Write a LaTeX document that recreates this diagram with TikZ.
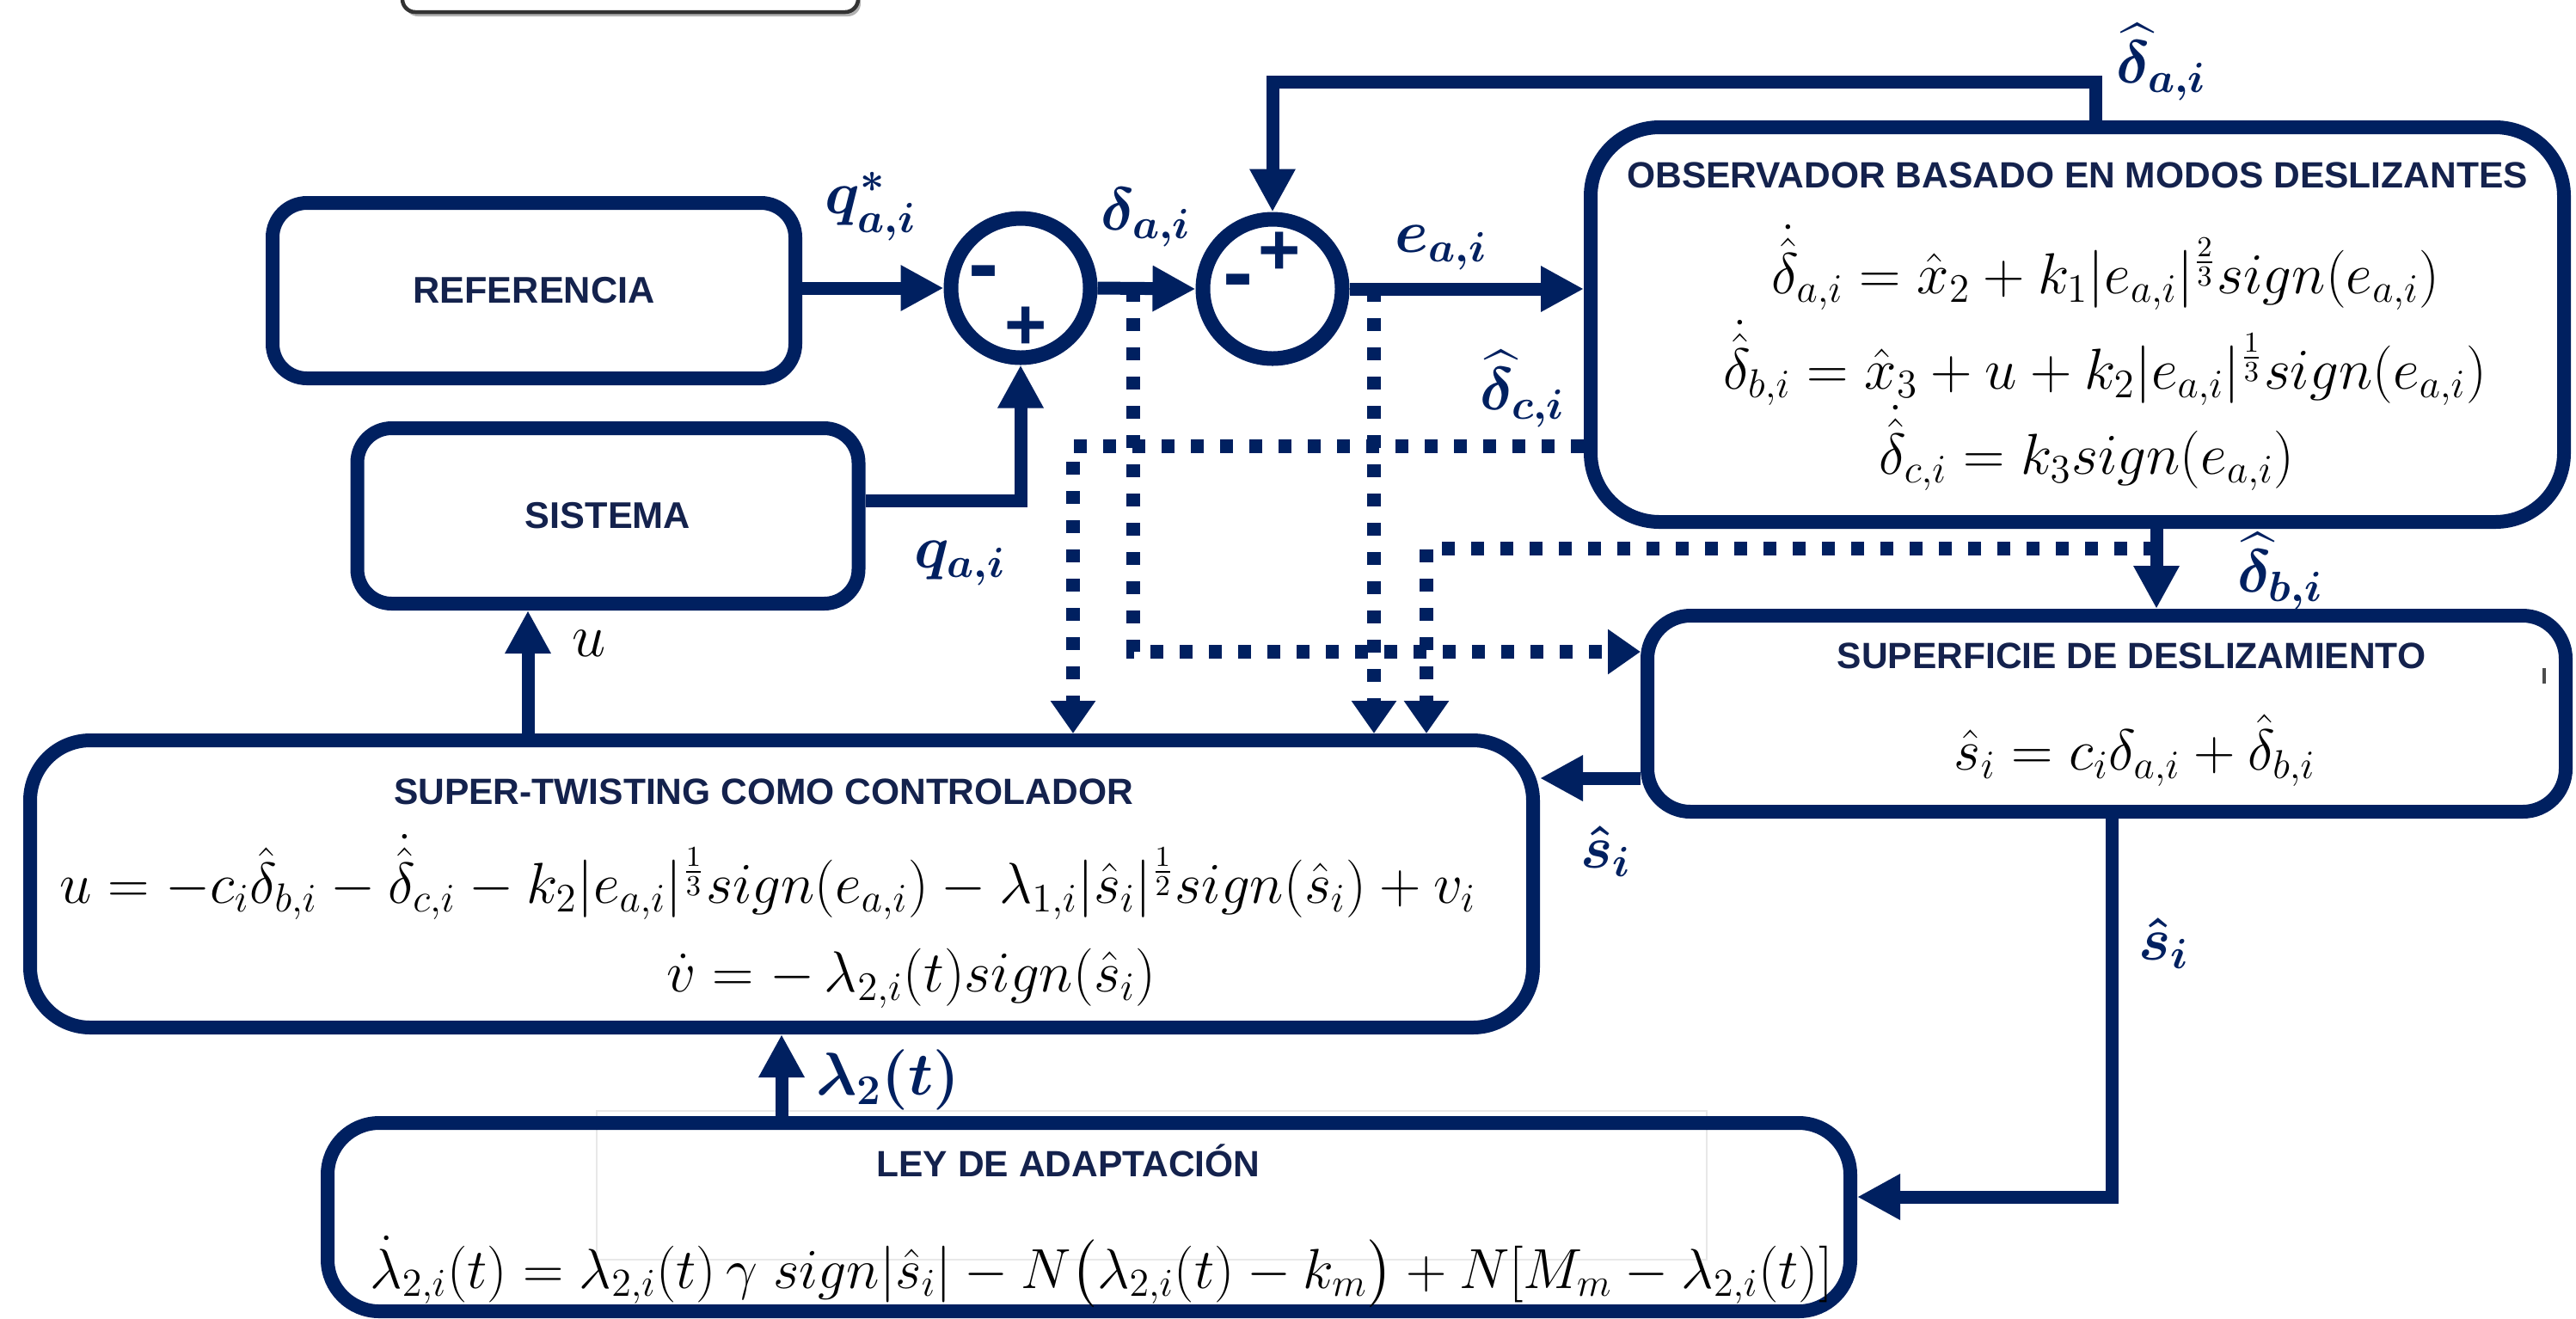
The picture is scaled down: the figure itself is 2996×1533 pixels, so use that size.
\RequirePackage{fix-cm}
\documentclass[tikz,border=0pt]{standalone}
\usepackage{amsmath,amssymb}
\usepackage{fontspec}
\setsansfont{Liberation Sans}
\usepackage{tikz}
\usetikzlibrary{arrows.meta,positioning}
\definecolor{onavy}{HTML}{002060}
\definecolor{otitle}{HTML}{14224D}
\newcommand{\xp}[1]{^{\scriptstyle #1}}

\begin{document}
\begin{tikzpicture}[
  x=0.1mm,y=-0.1mm,
  blk/.style={draw=onavy,line width=1.6mm,rounded corners=4mm,inner sep=0pt,
              font=\sffamily\bfseries\fontsize{12.3}{15}\selectfont,text=otitle},
  ttl/.style={font=\sffamily\bfseries\fontsize{12.1}{14}\selectfont,text=otitle,
              inner sep=0pt},
  sumc/.style={circle,draw=onavy,line width=1.7mm,minimum size=16.2mm,inner sep=0pt},
  sgn/.style={font=\sffamily\bfseries\fontsize{24}{24}\selectfont,text=onavy,inner sep=0pt},
  eqn/.style={font=\fontsize{19.1}{23}\selectfont,inner sep=0pt,anchor=base},
  lbl/.style={font=\fontsize{20}{24}\selectfont\boldmath,text=onavy,inner sep=0pt},
  sig/.style={draw=onavy,line width=1.5mm,-{Triangle[length=5mm,width=5mm]}},
  dsig/.style={draw=onavy,line width=1.6mm,dash pattern=on 1.5mm off 1.9mm,
               -{Triangle[length=3.8mm,width=5mm]}}
]
\useasboundingbox (0,0) rectangle (2996,1533);
\fill[white] (0,0) rectangle (2996,1533);

% cut-off frame at the top edge
\fill[black!30,rounded corners=1.5mm] (471,-60) rectangle (1001,19);
\draw[black!80,fill=white,line width=0.45mm,rounded corners=1.5mm] (468,-60) rectangle (998,14);

% blocks
\node[blk,minimum width=60.8mm,minimum height=20.4mm] (ref) at (621,338) {REFERENCIA};
\node[blk,minimum width=58.3mm,minimum height=20.4mm] (sys) at (707,600) {SISTEMA};
\node[blk,minimum width=113.2mm,minimum height=45.9mm,rounded corners=8mm] (obs) at (2416,377.5) {};
\node[blk,minimum width=106.8mm,minimum height=22.8mm,rounded corners=5mm] (sup) at (2450,830) {};
\node[blk,minimum width=174.8mm,minimum height=33.4mm,rounded corners=7mm] (stw) at (909,1028) {};
\draw[black!9,line width=0.2mm] (694,1292) rectangle (1985,1465);
\node[blk,minimum width=177.1mm,minimum height=21.9mm,rounded corners=6mm] (ley) at (1266.5,1415.5) {};
\draw[black!70,line width=0.35mm] (2959,777) -- (2959,795);

\node[sumc] (s1) at (1187,335) {};
\node[sumc] (s2) at (1480,336) {};
\node[sgn,font=\sffamily\bfseries\fontsize{30}{30}\selectfont] (s1m) at (1144,326) {-};
\node[sgn] (s1p) at (1193,382) {+};
\node[sgn] (s2p) at (1488,295) {+};
\node[sgn,font=\sffamily\bfseries\fontsize{30}{30}\selectfont] (s2m) at (1440,336) {-};

% titles and equations
\node[ttl,below=4.8mm of obs.north] (obst) {OBSERVADOR BASADO EN MODOS DESLIZANTES};
\node[eqn] (oeq1) at (2449,341)
  {$\dot{\hat{\delta}}_{a,i} = \hat{x}_2 + k_1|e_{a,i}|\xp{\frac{2}{3}}sign(e_{a,i})$};
\node[eqn] (oeq2) at (2448,452)
  {$\dot{\hat{\delta}}_{b,i} = \hat{x}_3 + u + k_2|e_{a,i}|\xp{\frac{1}{3}}sign(e_{a,i})$};
\node[eqn] (oeq3) at (2427,551)
  {$\dot{\hat{\delta}}_{c,i} = k_3sign(e_{a,i})$};

\node[ttl,below=3.9mm of sup.north,xshift=2.9mm] (supt) {SUPERFICIE DE DESLIZAMIENTO};
\node[eqn] (supeq) at (2483,895)
  {$\hat{s}_i = c_i\delta_{a,i} + \hat{\delta}_{b,i}$};

\node[ttl,below=5.2mm of stw.north,xshift=-2.1mm] (stwt) {SUPER-TWISTING COMO CONTROLADOR};
\node[eqn] (stweq1) at (893,1050)
  {$u = -c_i\hat{\delta}_{b,i} - \dot{\hat{\delta}}_{c,i} - k_2|e_{a,i}|\xp{\frac{1}{3}}sign(e_{a,i})
    - \lambda_{1,i}|\hat{s}_i|\xp{\frac{1}{2}}sign(\hat{s}_i) + v_i$};
\node[eqn] (stweq2) at (1060,1153)
  {$\dot{v} = -\,\lambda_{2,i}(t)sign(\hat{s}_i)$};

\node[ttl,below=3.2mm of ley.north,xshift=-2.4mm] (leyt) {LEY DE ADAPTACIÓN};
\node[eqn,font=\fontsize{18.7}{22}\selectfont] (leyeq) at (1281,1498)
  {$\dot{\lambda}_{2,i}(t) = \lambda_{2,i}(t)\,\gamma\;sign|\hat{s}_i| - N\big(\lambda_{2,i}(t) - k_m\big)
    + N[M_m - \lambda_{2,i}(t)]$};

% signal paths
\coordinate (fb) at (2437,95);
\coordinate (ux) at (614,780);
\coordinate (bx) at (2508,638);
\coordinate (sx) at (1850,905);
\coordinate (sbend) at (2456,1392);
\draw[sig] (ref.east |- s1) -- (s1.west);
\draw[sig] (s1.east) -- (s2.west);
\draw[sig] (s2.east) -- (s2.east -| obs.west);
\draw[sig] (obs.north -| fb) -- (fb) -| (s2.north);
\draw[sig] ([yshift=1.8mm]sys.east) -| (s1.south);
\draw[sig] (stw.north -| ux) -- (sys.south -| ux);
\draw[sig] (obs.south -| bx) -- (sup.north -| bx);
\draw[sig] (sup.west |- sx) -- (stw.east |- sx);
\draw[sig] (sup.south -| sbend) -- (sbend) -- (ley.east |- sbend);
\draw[sig] (ley.north -| stw.south) -- (stw.south);

% estimated signals
\coordinate (da) at (1318,336);
\coordinate (dy) at (1318,758);
\coordinate (ea) at (1598,336);
\coordinate (dc) at (1248,519);
\coordinate (db) at (1659,638);
\draw[dsig] (da) -- (dy) -- (sup.west |- dy);
\draw[dsig] (ea) -- (stw.north -| ea);
\draw[dsig] (obs.west |- dc) -- (dc) -- (stw.north -| dc);
\draw[dsig] (bx) -- (db) -- (stw.north -| db);

% labels
\node[lbl] (lqr) at (1013,240) {$q^{*}_{a,i}$};
\node[lbl] (lda) at (1333,253) {$\delta_{a,i}$};
\node[lbl] (lea) at (1676,288) {$e_{a,i}$};
\node[lbl] (lha) at (2514,72) {$\widehat{\delta}_{a,i}$};
\node[lbl] (lhc) at (1771,452) {$\widehat{\delta}_{c,i}$};
\node[lbl] (lhb) at (2652,664) {$\widehat{\delta}_{b,i}$};
\node[lbl] (lq) at (1117,655) {$q_{a,i}$};
\node[font=\fontsize{20}{24}\selectfont,inner sep=0pt] (lu) at (685,748) {$u$};
\node[lbl] (ls1) at (1868,990) {$\hat{s}_i$};
\node[lbl] (ls2) at (2517,1097) {$\hat{s}_i$};
\node[lbl] (llam) at (1033,1256) {$\lambda_2(t)$};
\end{tikzpicture}
\end{document}
